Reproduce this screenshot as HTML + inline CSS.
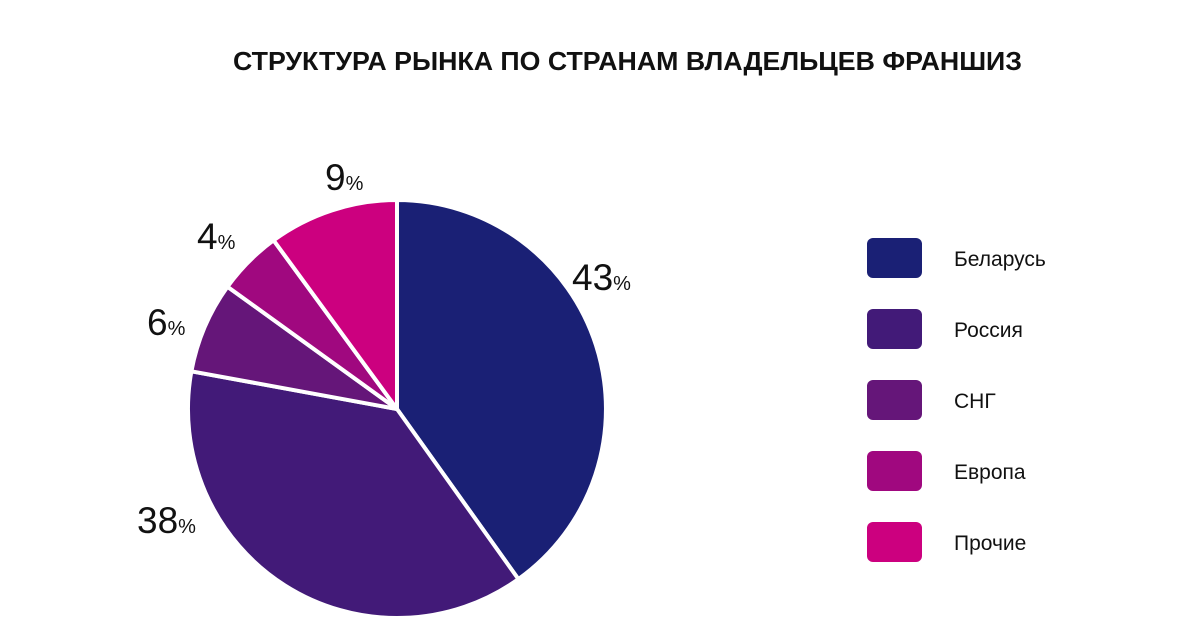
<!DOCTYPE html>
<html><head><meta charset="utf-8"><style>
html,body{margin:0;padding:0;background:#fff}
svg{display:block}
text{font-family:"Liberation Sans","DejaVu Sans",sans-serif;fill:#111}
</style></head><body>
<svg width="1200" height="638" viewBox="0 0 1200 638">
<text x="233" y="70" font-size="26" font-weight="bold" textLength="789" lengthAdjust="spacingAndGlyphs">СТРУКТУРА РЫНКА ПО СТРАНАМ ВЛАДЕЛЬЦЕВ ФРАНШИЗ</text>
<g stroke="#fff" stroke-width="4" stroke-linejoin="round">
<path d="M397,409 L397,200 A209,209 0 0 1 518.4,579.1 Z" fill="#1a2075"/>
<path d="M397,409 L518.4,579.1 A209,209 0 0 1 191.4,371.3 Z" fill="#421a78"/>
<path d="M397,409 L191.4,371.3 A209,209 0 0 1 227.5,286.7 Z" fill="#651679"/>
<path d="M397,409 L227.5,286.7 A209,209 0 0 1 273.6,240.3 Z" fill="#a0087f"/>
<path d="M397,409 L273.6,240.3 A209,209 0 0 1 397,200 Z" fill="#cc007f"/>
</g>
<g font-size="37">
<text x="572" y="290">43<tspan font-size="20">%</tspan></text>
<text x="137" y="533">38<tspan font-size="20">%</tspan></text>
<text x="147" y="335">6<tspan font-size="20">%</tspan></text>
<text x="197" y="249">4<tspan font-size="20">%</tspan></text>
<text x="325" y="190">9<tspan font-size="20">%</tspan></text>
</g>
<g>
<rect x="867" y="238" width="55" height="40" rx="6" fill="#1a2075"/>
<rect x="867" y="309" width="55" height="40" rx="6" fill="#421a78"/>
<rect x="867" y="380" width="55" height="40" rx="6" fill="#651679"/>
<rect x="867" y="451" width="55" height="40" rx="6" fill="#a0087f"/>
<rect x="867" y="522" width="55" height="40" rx="6" fill="#cc007f"/>
</g>
<g font-size="21">
<text x="954" y="266">Беларусь</text>
<text x="954" y="337">Россия</text>
<text x="954" y="408">СНГ</text>
<text x="954" y="479">Европа</text>
<text x="954" y="550">Прочие</text>
</g>
</svg>
</body></html>
